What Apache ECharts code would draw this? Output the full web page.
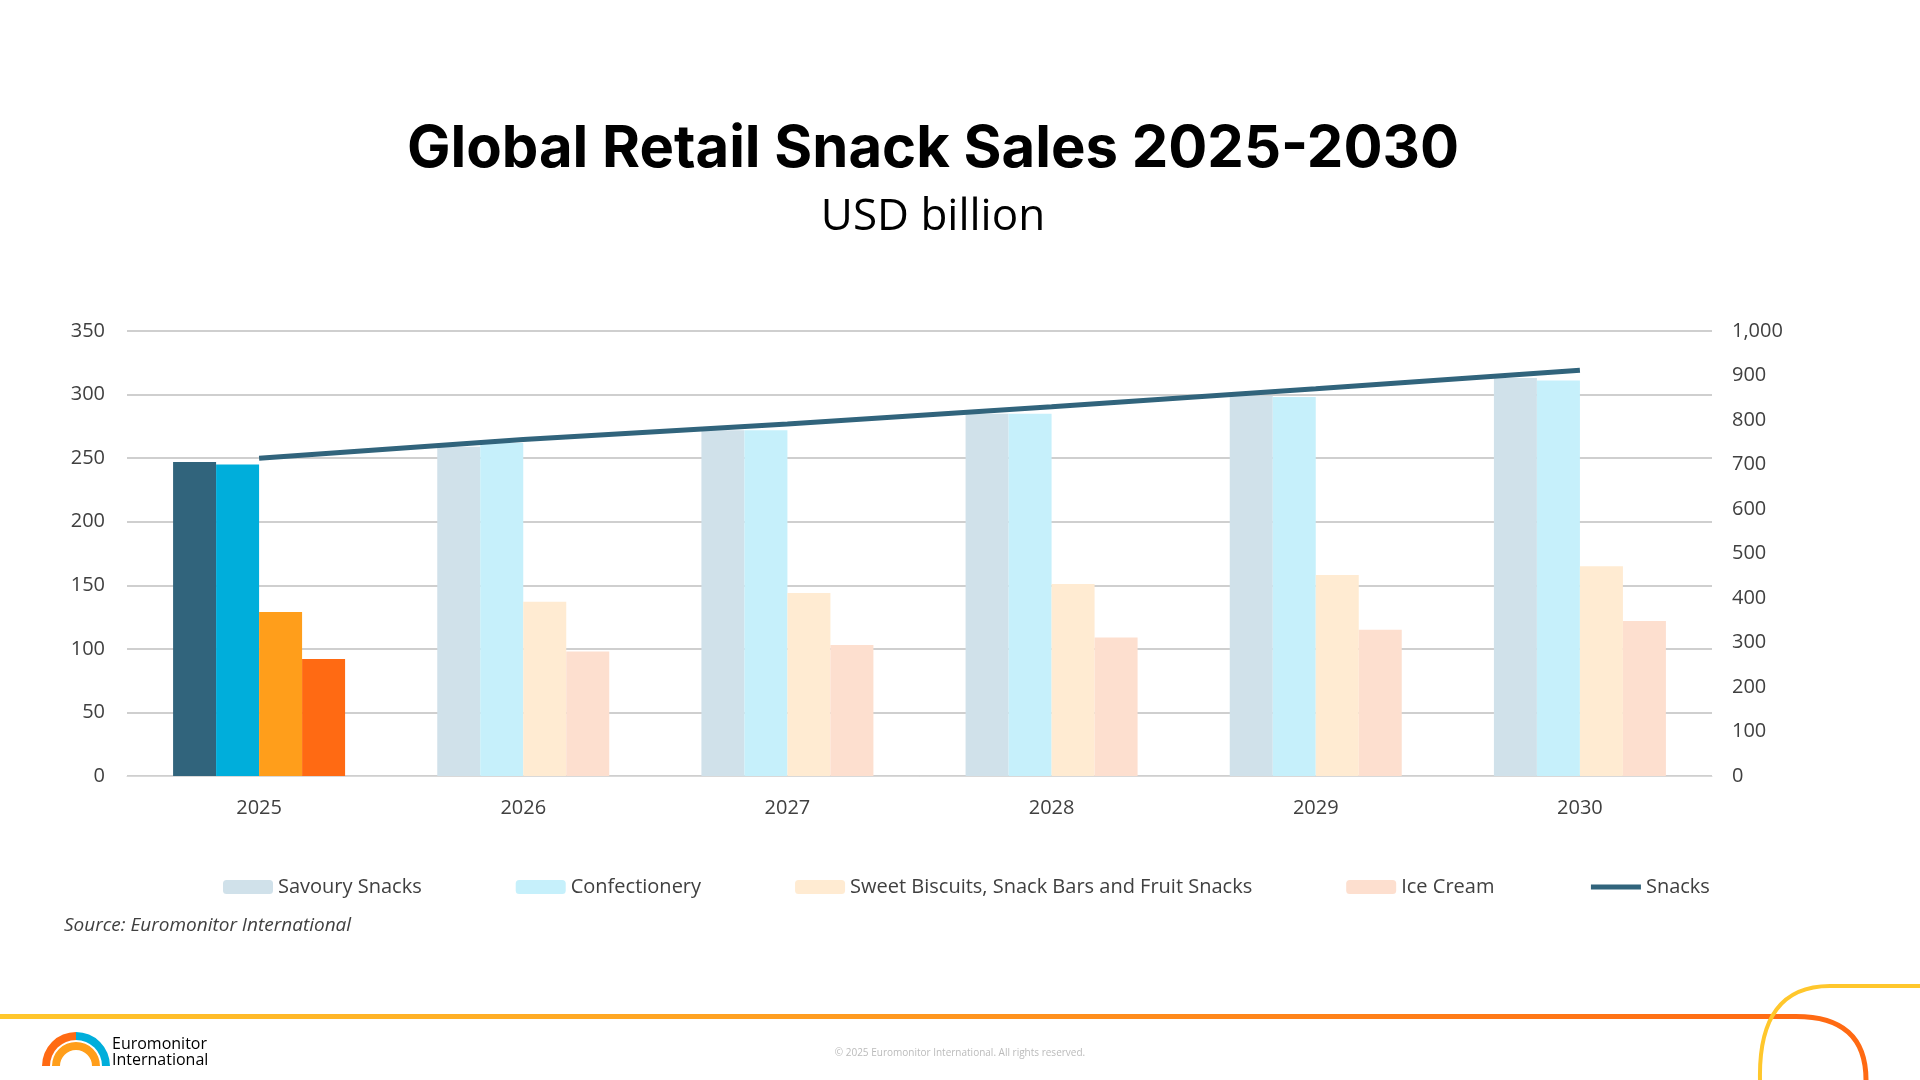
<!DOCTYPE html>
<html><head><meta charset="utf-8">
<script src="https://cdn.jsdelivr.net/npm/echarts@6/dist/echarts.min.js"></script>
<style>html,body{margin:0;padding:0;background:#fff}#chart{width:1920px;height:1080px}</style>
</head><body><div id="chart"></div>
<script>
var years = ['2025','2026','2027','2028','2029','2030'];
var savoury = [247, 259, 272, 285, 299, 313];
var confectionery = [245, 262, 272, 285, 298, 311];
var biscuits = [129, 137, 144, 151, 158, 165];
var iceCream = [92, 98, 103, 109, 115, 122];
var snacks = [714, 756, 791, 830, 870, 912];

var full = ['#31647C', '#00AEDB', '#FF9E1B', '#FF6A13'];
var light = ['#D0E1EA', '#C6F0FB', '#FFEBD2', '#FDDFCF'];

function barData(vals, i) {
	return vals.map(function (v, k) {
		return { value: v, itemStyle: { color: k === 0 ? full[i] : light[i] } };
	});
}
var chart = echarts.init(document.getElementById('chart'));
var font = '"Open Sans", sans-serif';
chart.setOption({
	animation: false,
	textStyle: { fontFamily: font },
	title: [{
		text: 'Global Retail Snack Sales 2025-2030',
		left: 928, textAlign: 'center', top: 116,
		textStyle: { fontSize: 58, fontWeight: 'bold', color: '#000', fontFamily: 'Inter, sans-serif' }
	}, {
		text: 'USD billion',
		left: 928, textAlign: 'center', top: 190,
		textStyle: { fontSize: 44, fontWeight: 'normal', color: '#000', fontFamily: font }
	}],
	grid: { left: 127, right: 208, top: 331, bottom: 304 },
	legend: {
		bottom: 178, left: 218, itemGap: 94, itemWidth: 50, itemHeight: 14,
		textStyle: { fontSize: 20, color: '#404040' },
		data: ['Savoury Snacks', 'Confectionery', 'Sweet Biscuits, Snack Bars and Fruit Snacks', 'Ice Cream',
			{ name: 'Snacks', itemStyle: { opacity: 0 }, lineStyle: { width: 5 } }]
	},
	xAxis: {
		type: 'category', data: years,
		axisLine: { lineStyle: { color: '#d9d9d9' } }, axisTick: { show: false },
		axisLabel: { fontSize: 20, color: '#404040', margin: 22 }
	},
	yAxis: [{
		type: 'value', min: 0, max: 350, interval: 50,
		axisLabel: { fontSize: 20, color: '#404040', margin: 22, align: 'right' },
		splitLine: { lineStyle: { color: '#bfbfbf', width: 1.5 } }
	}, {
		type: 'value', min: 0, max: 1000, interval: 100,
		axisLabel: { fontSize: 20, color: '#404040', margin: 20,
			formatter: function (v) { return v.toLocaleString('en-US'); } },
		splitLine: { show: false }
	}],
	series: [
		{ name: 'Savoury Snacks', type: 'bar', data: barData(savoury, 0), barWidth: 43, barGap: '0%', itemStyle: { color: light[0] } },
		{ name: 'Confectionery', type: 'bar', data: barData(confectionery, 1), barWidth: 43, barGap: '0%', itemStyle: { color: light[1] } },
		{ name: 'Sweet Biscuits, Snack Bars and Fruit Snacks', type: 'bar', data: barData(biscuits, 2), barWidth: 43, barGap: '0%', itemStyle: { color: light[2] } },
		{ name: 'Ice Cream', type: 'bar', data: barData(iceCream, 3), barWidth: 43, barGap: '0%', itemStyle: { color: light[3] } },
		{ name: 'Snacks', type: 'line', yAxisIndex: 1, data: snacks, symbol: 'none',
			lineStyle: { color: '#31647C', width: 5 }, itemStyle: { color: '#31647C' } }
	],
	graphic: [
		{ type: 'text', left: 64, top: 916, style: { text: 'Source: Euromonitor International', font: 'italic 19px ' + font, fill: '#404040' } },
		{ type: 'rect', left: 0, top: 1014, shape: { width: 1795, height: 5 },
			style: { fill: new echarts.graphic.LinearGradient(0, 0, 1, 0, [{ offset: 0, color: '#FFC72C' }, { offset: 1, color: '#FF6A13' }]) } },
		{ type: 'bezierCurve', shape: { x1: 1795, y1: 1016.5, cpx1: 1866, cpy1: 1016, x2: 1866, y2: 1080 }, style: { fill: 'none', stroke: '#FF6A13', lineWidth: 5 } },
		{ type: 'bezierCurve', shape: { x1: 1760, y1: 1080, cpx1: 1758, cpy1: 986, x2: 1830, y2: 986 }, style: { fill: 'none', stroke: '#FFC72C', lineWidth: 4 } },
		{ type: 'line', shape: { x1: 1830, y1: 986, x2: 1920, y2: 986 }, style: { stroke: '#FFC72C', lineWidth: 4 } },
		{ type: 'text', left: 112, top: 1036, style: { text: 'Euromonitor\nInternational', font: '16px ' + font, fill: '#000', lineHeight: 16 } },
		{ type: 'sector', shape: { cx: 76, cy: 1066, r: 34, r0: 26, startAngle: Math.PI, endAngle: Math.PI * 1.5 }, style: { fill: '#FF6A13' } },
		{ type: 'sector', shape: { cx: 76, cy: 1066, r: 34, r0: 26, startAngle: Math.PI * 1.5, endAngle: Math.PI * 2 }, style: { fill: '#00AEDB' } },
		{ type: 'sector', shape: { cx: 76, cy: 1066, r: 24, r0: 16, startAngle: Math.PI, endAngle: Math.PI * 2 }, style: { fill: '#FF9E1B' } },
		{ type: 'text', left: 'center', top: 1048, style: { text: '© 2025 Euromonitor International. All rights reserved.', font: '10px ' + font, fill: '#bbb' } }
	]
});
</script></body></html>
